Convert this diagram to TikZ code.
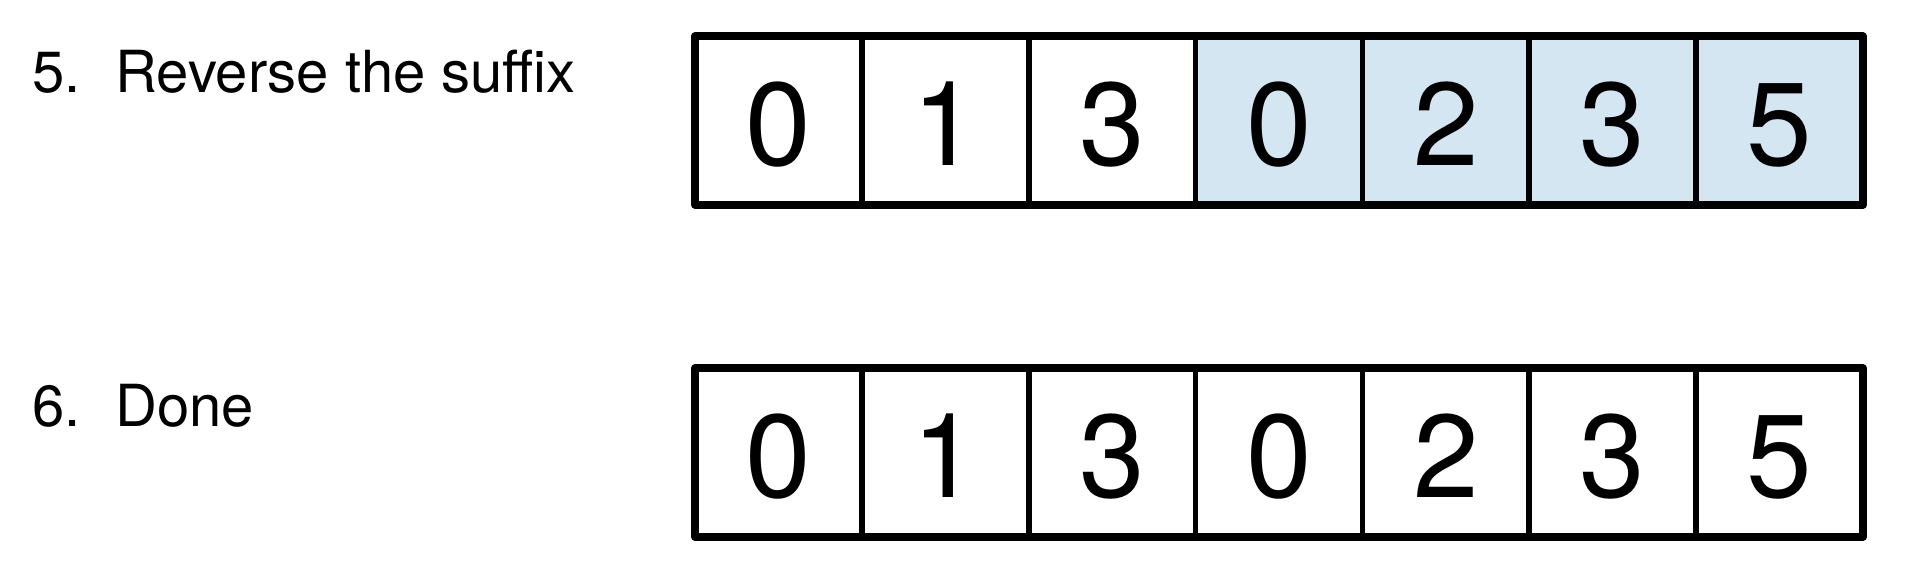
\documentclass[tikz,border=0pt]{standalone}
\usepackage{fontspec}
\setmainfont{TeX Gyre Heros}
\definecolor{suffixblue}{RGB}{213,230,243}
\begin{document}
\begin{tikzpicture}[x=0.5pt,y=0.5pt,
  cell/.style={draw=black, line width=2.9pt, rectangle, minimum width=83.43pt,
    minimum height=84.5pt, inner sep=0pt, outer sep=0pt,
    font=\fontsize{59pt}{60pt}\selectfont, text height=44.5pt, text depth=0pt,
    line join=round},
  hl/.style={cell, fill=suffixblue},
  outer/.style={draw=black, line width=3.6pt, line join=round},
  lbl/.style={anchor=base west, inner sep=0pt, font=\fontsize{29pt}{31pt}\selectfont}]
\useasboundingbox (0,0) rectangle (1920,-564);
% labels
\node[lbl] (n5) at (32,-92) {5.};
\node[lbl] (t5) at (115,-92) {Reverse the suffix};
\node[lbl] (n6) at (32,-426) {6.};
\node[lbl] (t6) at (115,-426) {Done};
% row 1
\foreach \d/\s [count=\i] in {0/cell,1/cell,3/cell,0/hl,2/hl,3/hl,5/hl} {
  \pgfmathsetmacro\xx{778.43+(\i-1)*166.86}
  \node[\s] (a\i) at (\xx,-120.5) {\d};
}
\draw[outer] (a1.north west) rectangle (a7.south east);
% row 2
\foreach \d [count=\i] in {0,1,3,0,2,3,5} {
  \pgfmathsetmacro\xx{778.43+(\i-1)*166.86}
  \node[cell] (b\i) at (\xx,-452.5) {\d};
}
\draw[outer] (b1.north west) rectangle (b7.south east);
\end{tikzpicture}
\end{document}
